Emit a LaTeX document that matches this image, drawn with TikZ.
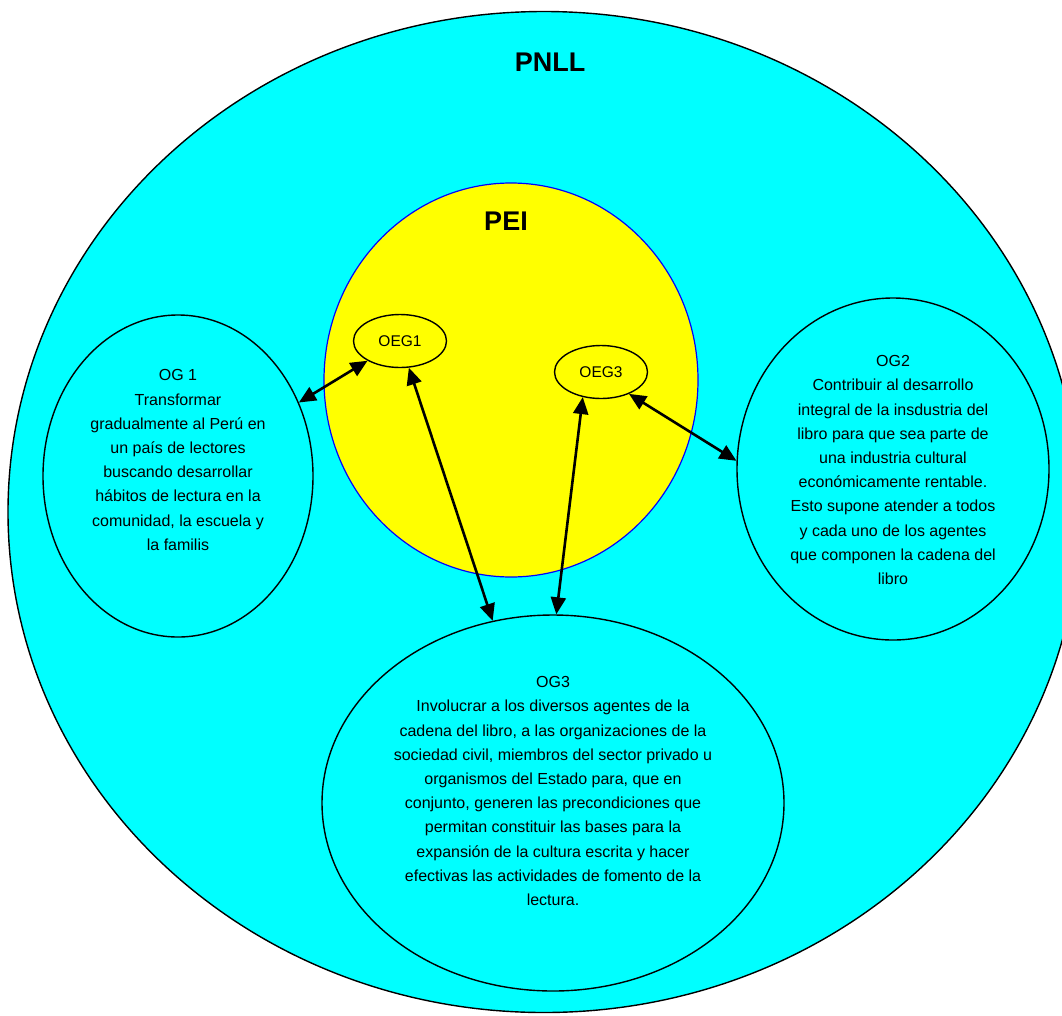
\documentclass[tikz,border=0pt]{standalone}
\usepackage{fontspec}
\setmainfont{Liberation Sans}
\usetikzlibrary{shapes.geometric, arrows.meta}
\definecolor{plancyan}{RGB}{0, 255, 255}
\definecolor{peiyellow}{RGB}{255, 255, 0}

\begin{document}
\begin{tikzpicture}[x=1pt, y=-1pt,
    goal/.style={ellipse, draw, line width=1.4pt, fill=plancyan, inner sep=0pt},
    oeg/.style={ellipse, draw, line width=1.4pt, fill=peiyellow, inner sep=0pt,
                minimum width=93pt, minimum height=53pt, font=\fontsize{15.5}{18}\selectfont},
    goaltext/.style={align=center, font=\fontsize{16}{24.2}\selectfont},
    title/.style={font=\bfseries\fontsize{27}{30}\selectfont},
    link/.style={{Triangle[length=17pt,width=15pt]}-{Triangle[length=17pt,width=15pt]}, line width=2.6pt}]

    \useasboundingbox (0,0) rectangle (1062,1015);
    \clip (0,0) rectangle (1062,1015);

    % Plans
    \node[goal, minimum width=1072pt, minimum height=1001pt] (pnll) at (544,512) {};
    \node[title] (pnlltitle) at (550,62) {PNLL};
    \node[ellipse, draw=blue, line width=1.2pt, fill=peiyellow, inner sep=0pt,
          minimum width=374pt, minimum height=394pt] (pei) at (511,380) {};
    \node[title] (peititle) at (506,221) {PEI};

    % Objectives of the PEI
    \node[oeg] (oeg1) at (400,341) {OEG1};
    \node[oeg] (oeg3) at (601,372) {OEG3};

    % General objectives
    \node[goal, minimum width=270pt, minimum height=322pt] (og1) at (178,476) {};
    \node[goaltext] (og1text) at (178,460) {OG 1\\Transformar\\gradualmente al Perú en\\un país de lectores\\buscando desarrollar\\hábitos de lectura en la\\comunidad, la escuela y\\la familis};
    \node[goal, minimum width=312pt, minimum height=342pt] (og2) at (893,469) {};
    \node[goaltext] (og2text) at (893,470) {OG2\\Contribuir al desarrollo\\integral de la insdustria del\\libro para que sea parte de\\una industria cultural\\económicamente rentable.\\Esto supone atender a todos\\y cada uno de los agentes\\que componen la cadena del\\libro};
    \node[goal, minimum width=462pt, minimum height=376pt] (og3) at (553,803) {};
    \node[goaltext] (og3text) at (553,791) {OG3\\Involucrar a los diversos agentes de la\\cadena del libro, a las organizaciones de la\\sociedad civil, miembros del sector privado u\\organismos del Estado para, que en\\conjunto, generen las precondiciones que\\permitan constituir las bases para la\\expansión de la cultura escrita y hacer\\efectivas las actividades de fomento de la\\lectura.};

    % Links
    \draw[link] (og1) -- (oeg1);
    \draw[link] (oeg1) -- (og3);
    \draw[link] (oeg3.234) -- (og3.89);
    \draw[link] (oeg3.-38) -- (og2.177);
\end{tikzpicture}
\end{document}
